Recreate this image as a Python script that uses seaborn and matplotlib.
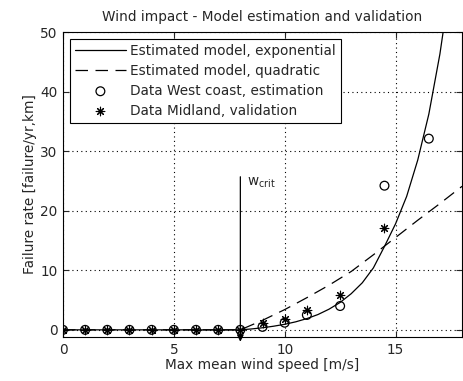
import numpy as np
import pandas as pd
import matplotlib
matplotlib.use("Agg")
import matplotlib.pyplot as plt
import seaborn as sns

# Model curves
exp_x = [0, 8, 8.5, 9, 9.5, 10, 10.5, 11, 11.5, 12, 12.5, 13, 13.5, 14, 14.5, 15, 15.5, 16, 16.5, 17, 17.5]
exp_y = [0, 0, 0.15, 0.35, 0.61, 0.93, 1.35, 1.89, 2.57, 3.47, 4.6, 6.07, 7.9, 10.4, 14.0, 17.8, 22.4, 28.5, 36.2, 46.3, 59.0]
quad_x = [0, 8, 9, 10, 11, 12, 13, 14, 15, 16, 17, 18]
quad_y = [0, 0, 1.6, 3.4, 5.4, 7.5, 9.8, 12.6, 15.5, 18.4, 21.2, 24.1]

# Data
west_x = [0, 1, 2, 3, 4, 5, 6, 7, 8, 9, 10, 11, 12.5, 14.5, 16.5]
west_y = [0, 0, 0, 0, 0, 0, 0, 0, 0, 0.5, 1.2, 2.5, 4.0, 24.2, 32.1]
mid_x = [0, 1, 2, 3, 4, 5, 6, 7, 8, 9, 10, 11, 12.5, 14.5]
mid_y = [0, 0, 0, 0, 0, 0, 0, 0, 0, 1.1, 1.8, 3.4, 5.9, 17.1]

xticks = [0, 5, 10, 15]
yticks = [0, 10, 20, 30, 40, 50]

sns.set_style("ticks")
plt.rcParams['font.family'] = ['DejaVu Sans']
FS = 9.8
plt.rcParams['font.size'] = FS

fig = plt.figure(figsize=(4.63, 3.81), dpi=100)
ax = fig.add_axes([0.136, 0.1155, 0.862, 0.8005])

sns.lineplot(x=exp_x, y=exp_y, ax=ax, color='black', lw=0.9, sort=False,
             label='Estimated model, exponential')
sns.lineplot(x=quad_x, y=quad_y, ax=ax, color='black', lw=0.9, sort=False,
             label='Estimated model, quadratic')
ax.lines[1].set_linestyle((0, (10, 6)))
sns.scatterplot(x=west_x, y=west_y, ax=ax, marker='o', s=40, facecolor='none',
                edgecolor='black', linewidth=0.9, label='Data West coast, estimation')
sns.scatterplot(x=mid_x, y=mid_y, ax=ax, marker=(8, 2, 0), s=38, color='black',
                linewidth=0.8, label='Data Midland, validation')

ax.annotate('', xy=(8, -2.0), xytext=(8, 25.7),
            arrowprops=dict(arrowstyle='-|>', color='black', lw=0.9,
                            mutation_scale=10, shrinkA=0, shrinkB=0),
            annotation_clip=False)
ax.text(8.3, 24.7, r'$\mathregular{w_{crit}}$', fontsize=FS, va='center', ha='left')

ax.set_xlim(0, 18)
ax.set_ylim(-1.2, 50)
ax.set_xticks(xticks)
ax.set_yticks(yticks)
ax.grid(True, color='black', linestyle=(0, (1, 3)), linewidth=0.8)
ax.tick_params(direction='in', top=True, right=True, length=4, width=0.8, labelsize=FS, pad=4)
for s in ax.spines.values():
    s.set_linewidth(0.8)
    s.set_color('black')

ax.set_xlabel('Max mean wind speed [m/s]', fontsize=FS, labelpad=1)
ax.set_ylabel('Failure rate [failure/yr,km]', fontsize=FS, labelpad=2)
ax.set_title('Wind impact - Model estimation and validation', fontsize=FS, pad=8)

leg = ax.legend(loc='upper left', fontsize=FS, frameon=True, fancybox=False,
                edgecolor='black', framealpha=1, handlelength=3.8,
                borderaxespad=0.5, labelspacing=0.45, handletextpad=0.3,
                borderpad=0.35)
leg.get_frame().set_linewidth(0.8)

fig.savefig('out.png', dpi=100)
